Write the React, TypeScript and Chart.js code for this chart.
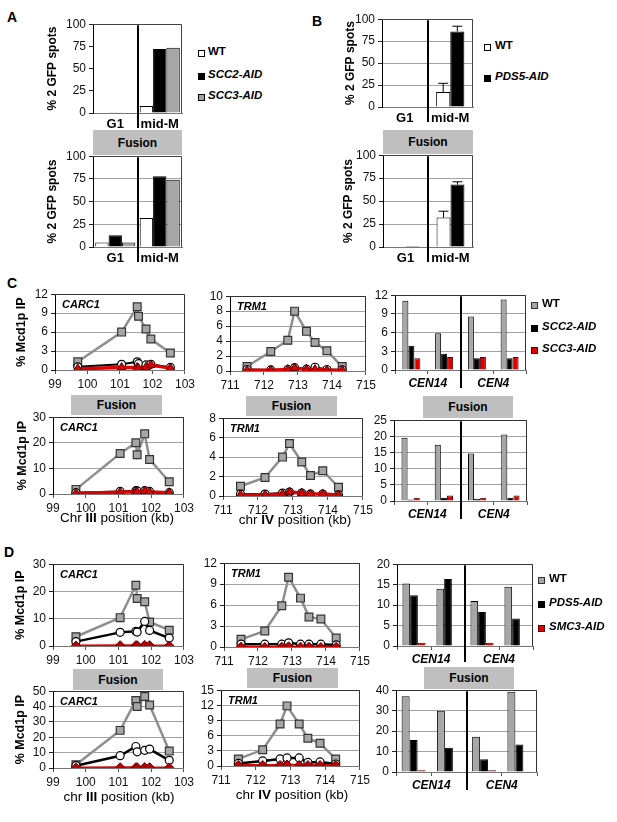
import React, { useEffect, useRef } from 'react';
import { Chart, registerables } from 'chart.js';

Chart.register(...registerables);

const FONT = "'Liberation Sans', Arial, Helvetica, sans-serif";
Chart.defaults.font.family = FONT;
Chart.defaults.color = '#000';

// ---------------- data ----------------
const phases = ['G1', 'mid-M'];
const legendA = ['WT', 'SCC2-AID', 'SCC3-AID'];
const legendB = ['WT', 'PDS5-AID'];
const legendC = ['WT', 'SCC2-AID', 'SCC3-AID'];
const legendD = ['WT', 'PDS5-AID', 'SMC3-AID'];

// y tick values per chart
const ticksPct = [0, 25, 50, 75, 100];
const ticks12by3 = [0, 3, 6, 9, 12];
const ticks30by10 = [0, 10, 20, 30];
const ticks10by2 = [0, 2, 4, 6, 8, 10];
const ticks8by2 = [0, 2, 4, 6, 8];
const ticks25by5 = [0, 5, 10, 15, 20, 25];
const ticks50by10 = [0, 10, 20, 30, 40, 50];
const ticks15by3 = [0, 3, 6, 9, 12, 15];
const ticks20by5 = [0, 5, 10, 15, 20];
const ticks40by10 = [0, 10, 20, 30, 40];

const aTopWT = [0, 8];
const aTopSCC2 = [0.8, 72];
const aTopSCC3 = [0, 73.5];
const aFusWT = [5, 32];
const aFusSCC2 = [13, 78];
const aFusSCC3 = [5, 74];

const bTopWT = [0, 17];
const bTopWTErr = [0, 10];
const bTopPDS5 = [0, 86];
const bTopPDS5Err = [0, 6];
const bFusWT = [0, 32];
const bFusWTErr = [0, 7];
const bFusPDS5 = [1, 68];
const bFusPDS5Err = [0, 3];

const carcPos = [99.7, 101.05, 101.53, 101.57, 101.8, 101.95, 102.55];
const cCarcWT = [1.3, 6.0, 10.0, 8.5, 6.5, 4.9, 2.7];
const cCarcSCC2 = [0.5, 0.9, 1.3, 1.0, 0.8, 0.9, 0.4];
const cCarcSCC3 = [0.2, 0.4, 0.4, 0.25, 0.45, 0.8, 0.3];
const cCarcFusWT = [1.8, 15.8, 20.0, 15.3, 23.5, 13.5, 4.8];
const cCarcFusSCC2 = [0.5, 1.0, 1.3, 1.2, 1.3, 1.0, 0.5];
const cCarcFusSCC3 = [0.3, 0.7, 0.9, 0.8, 1.2, 0.8, 0.5];

const trmPos = [711.5, 712.2, 712.7, 712.9, 713.25, 713.5, 713.85, 714.3];
const cTrmWT = [0.6, 2.6, 4.1, 8.0, 5.3, 3.8, 2.7, 0.6];
const cTrmSCC2 = [0.2, 0.15, 0.2, 0.45, 0.25, 0.5, 0.2, 0.15];
const cTrmSCC3 = [0.1, 0.1, 0.2, 0.4, 0.2, 0.2, 0.1, 0.1];
const cTrmFusWT = [1.0, 1.9, 4.0, 5.4, 3.5, 2.1, 2.6, 0.9];
const cTrmFusSCC2 = [0.2, 0.2, 0.3, 0.4, 0.3, 0.2, 0.2, 0.1];
const cTrmFusSCC3 = [0.1, 0.1, 0.2, 0.4, 0.3, 0.2, 0.2, 0.1];

const cenLabels = ['', 'CEN14', '', 'CEN4'];
const cCenWT = [11.1, 5.9, 8.6, 11.3];
const cCenSCC2 = [3.9, 2.6, 1.9, 1.9];
const cCenSCC3 = [1.9, 2.1, 2.1, 2.1];
const cCenFusWT = [19.6, 17.4, 14.7, 20.6];
const cCenFusSCC2 = [0.5, 1.0, 0.7, 1.0];
const cCenFusSCC3 = [1.0, 1.7, 1.0, 1.7];

const dCarcWT = [3.4, 10.4, 22.3, 17.4, 16.2, 8.8, 5.8];
const dCarcPDS5 = [1.6, 5.0, 5.4, 5.1, 9.0, 5.7, 2.9];
const dCarcSMC3 = [0.2, 0.3, 0.3, 0.3, 0.4, 0.3, 0.2];
const dCarcFusWT = [2.1, 24.5, 44.0, 40.0, 46.5, 41.0, 11.0];
const dCarcFusPDS5 = [1.5, 8.0, 14.0, 10.5, 11.5, 12.3, 5.0];
const dCarcFusSMC3 = [0.4, 0.5, 0.5, 0.5, 0.6, 0.5, 0.4];

const dTrmWT = [1.1, 2.3, 5.9, 10.0, 7.0, 4.3, 4.0, 1.3];
const dTrmPDS5 = [0.4, 0.4, 0.4, 0.6, 0.4, 0.4, 0.4, 0.3];
const dTrmSMC3 = [0.05, 0.0, 0.05, 0.1, 0.05, 0.05, 0.0, 0.05];
const dTrmFusWT = [1.4, 3.2, 8.3, 11.9, 8.3, 5.5, 4.5, 1.4];
const dTrmFusPDS5 = [0.5, 1.0, 1.4, 1.6, 1.6, 0.7, 0.8, 0.4];
const dTrmFusSMC3 = [0.2, 0.2, 0.2, 0.3, 0.2, 0.2, 0.2, 0.2];

const dCenWT = [15.3, 14.0, 11.0, 14.5];
const dCenPDS5 = [12.4, 16.4, 8.3, 6.7];
const dCenSMC3 = [0.8, 0.2, 0.8, 0.2];
const dCenFusWT = [37.0, 30.0, 17.2, 39.3];
const dCenFusPDS5 = [15.7, 11.8, 6.2, 13.4];
const dCenFusSMC3 = [0.8, 0.4, 0.8, 0.4];

// ---------------- styles ----------------
const GRID = '#a3a3a3';
const WT_BAR = '#a6a6a6';
const RED = '#e00000';

// ---------------- plugin ----------------
const deco: any = {
  id: 'deco',
  beforeDatasetsDraw(chart: any, _a: any, o: any) {
    const { ctx, chartArea: a } = chart;
    if (o && o.frame) {
      ctx.save();
      ctx.strokeStyle = o.frame;
      ctx.lineWidth = 1;
      ctx.beginPath();
      const t = Math.round(a.top) + 0.5;
      const r = Math.round(a.right) - 0.5;
      ctx.moveTo(a.left, t);
      ctx.lineTo(r, t);
      ctx.lineTo(r, a.bottom);
      ctx.stroke();
      ctx.restore();
    }
  },
  afterDraw(chart: any, _a: any, o: any) {
    const { ctx, chartArea: a } = chart;
    if (!o) return;
    if (o.errors) {
      const ys = chart.scales.y;
      ctx.save();
      ctx.strokeStyle = '#000';
      ctx.lineWidth = 1;
      const errs: number[][] = o.errors;
      for (let di = 0; di < errs.length; di++) {
        const meta = chart.getDatasetMeta(di);
        const vals = chart.data.datasets[di].data;
        meta.data.forEach((bar: any, i: number) => {
          const e = errs[di][i];
          if (!e) return;
          const yTop = ys.getPixelForValue(vals[i] + e);
          const yBase = ys.getPixelForValue(vals[i]);
          ctx.beginPath();
          ctx.moveTo(bar.x, yBase);
          ctx.lineTo(bar.x, yTop);
          ctx.moveTo(bar.x - 5, yTop);
          ctx.lineTo(bar.x + 5, yTop);
          ctx.stroke();
        });
      }
      ctx.restore();
    }
    if (o.divider !== undefined && o.divider !== null) {
      const xs = chart.scales.x;
      const px = Math.round((xs.getPixelForValue(o.divider) + xs.getPixelForValue(o.divider + 1)) / 2);
      ctx.save();
      ctx.strokeStyle = '#000';
      ctx.lineWidth = 2;
      ctx.beginPath();
      ctx.moveTo(px, a.top + 1);
      ctx.lineTo(px, a.bottom + (o.dividerExt || 0));
      ctx.stroke();
      ctx.restore();
    }
    if (o.tag) {
      ctx.save();
      ctx.font = `italic bold 11px ${FONT}`;
      ctx.fillStyle = '#000';
      ctx.textBaseline = 'top';
      ctx.fillText(o.tag, a.left + 7, a.top + 5);
      ctx.restore();
    }
  },
};

// ---------------- config helpers ----------------
function yAxis(tickVals: number[], title?: string, grid = true, titleSize = 12) {
  return {
    min: tickVals[0],
    max: tickVals[tickVals.length - 1],
    afterBuildTicks: (s: any) => {
      s.ticks = tickVals.map((v) => ({ value: v }));
    },
    ticks: { font: { size: 12 }, color: '#111', padding: 3, autoSkip: false },
    grid: { display: true, drawOnChartArea: grid, color: GRID, lineWidth: 1, tickLength: 4, tickColor: '#222' },
    border: { display: true, color: '#000', width: 1 },
    title: title
      ? { display: true, text: title, font: { size: titleSize, weight: 'bold' }, color: '#000', padding: 0 }
      : { display: false },
  };
}

function barDs(label: string, data: number[], bg: string, border: string, cp: number) {
  return { label, data, backgroundColor: bg, borderColor: border, borderWidth: 1, categoryPercentage: cp, barPercentage: 1 };
}

function phaseConfig(datasets: any[], title: string, grid: boolean, extra: any = {}) {
  return {
    type: 'bar',
    data: { labels: phases, datasets },
    options: {
      scales: {
        x: {
          ticks: { font: { size: 13, weight: 'bold' }, color: '#000', padding: 4, autoSkip: false, maxRotation: 0 },
          grid: { drawOnChartArea: false, drawTicks: false },
          border: { color: '#777' },
        },
        y: yAxis(ticksPct, title, grid),
      },
      plugins: { deco: { frame: '#444', divider: 0, dividerExt: 15, ...extra } },
    },
  };
}

function cenConfig(datasets: any[], tickVals: number[], plotW: number, ext: number) {
  return {
    type: 'bar',
    data: { labels: cenLabels, datasets },
    options: {
      scales: {
        x: {
          ticks: {
            font: { size: 12, weight: 'bold', style: 'italic' },
            color: '#000',
            padding: 2,
            autoSkip: false,
            maxRotation: 0,
            labelOffset: -plotW / 8,
          },
          grid: { drawOnChartArea: false, drawTicks: true, tickLength: 4, tickColor: '#555' },
          border: { color: '#777' },
        },
        y: yAxis(tickVals),
      },
      plugins: { deco: { frame: '#333', divider: 1, dividerExt: ext } },
    },
  };
}

function lineConfig(
  xs: number[],
  wt: number[],
  m1: number[],
  m2: number[],
  xr: [number, number],
  tickVals: number[],
  tag: string,
  variant: 'C' | 'D',
  title?: string,
) {
  const pts = (ys: number[]) => xs.map((x, i) => ({ x, y: ys[i] }));
  const red =
    variant === 'C'
      ? { label: 'm2', data: pts(m2), borderColor: RED, borderWidth: 3.5, pointStyle: 'triangle', pointRadius: 5, pointBackgroundColor: RED, pointBorderColor: '#500', pointBorderWidth: 1, order: 1 }
      : { label: 'm2', data: pts(m2), borderColor: RED, borderWidth: 2, pointStyle: 'rectRot', pointRadius: 4.5, pointBackgroundColor: '#c00000', pointBorderColor: '#600', pointBorderWidth: 1, order: 1 };
  return {
    type: 'line',
    data: {
      datasets: [
        { label: 'WT', data: pts(wt), borderColor: '#8e8e8e', borderWidth: 2.5, pointStyle: 'rect', pointRadius: 5.5, pointBackgroundColor: WT_BAR, pointBorderColor: '#333', pointBorderWidth: 1.2, order: 3, tension: 0 },
        { label: 'm1', data: pts(m1), borderColor: '#000', borderWidth: variant === 'C' ? 2 : 2.5, pointStyle: 'circle', pointRadius: 4, pointBackgroundColor: '#fff', pointBorderColor: '#000', pointBorderWidth: 1.2, order: 2, tension: 0 },
        red,
      ],
    },
    options: {
      scales: {
        x: {
          type: 'linear',
          min: xr[0],
          max: xr[1],
          ticks: { stepSize: 1, font: { size: 12 }, color: '#111', padding: 3, autoSkip: false },
          grid: { drawOnChartArea: false, drawTicks: true, tickLength: 4, tickColor: '#555' },
          border: { color: '#777' },
        },
        y: yAxis(tickVals, title, true, 12.5),
      },
      plugins: { deco: { frame: '#333', tag } },
    },
  };
}

// ---------------- components ----------------
type Rect = { x: number; y: number; w: number; h: number };

function Plot({ plot, yW, xH, padT = 9, padR = 8, config }: { plot: Rect; yW: number; xH: number; padT?: number; padR?: number; config: () => any }) {
  const ref = useRef<HTMLCanvasElement | null>(null);
  const W = yW + plot.w + padR;
  const H = padT + plot.h + xH;
  useEffect(() => {
    const cfg = config();
    const o = cfg.options;
    o.responsive = false;
    o.maintainAspectRatio = false;
    o.animation = false;
    o.layout = { padding: { top: padT, right: padR, left: 0, bottom: 0 } };
    o.scales.x.afterFit = (s: any) => {
      s.height = xH;
    };
    o.scales.y.afterFit = (s: any) => {
      s.width = yW;
    };
    o.plugins = { ...(o.plugins || {}), legend: { display: false }, tooltip: { enabled: false } };
    cfg.plugins = [deco];
    const chart = new Chart(ref.current as HTMLCanvasElement, cfg);
    return () => chart.destroy();
  }, []);
  return (
    <canvas
      ref={ref}
      width={W}
      height={H}
      style={{ position: 'absolute', left: plot.x - yW, top: plot.y - padT, width: W, height: H }}
    />
  );
}

function T({ x, y, s = 12, b = false, i = false, center = false, children }: any) {
  const style: any = {
    position: 'absolute',
    top: y - s / 2,
    fontSize: s,
    lineHeight: `${s}px`,
    fontWeight: b ? 'bold' : 'normal',
    fontStyle: i ? 'italic' : 'normal',
    whiteSpace: 'nowrap',
  };
  if (center) {
    style.left = x - 150;
    style.width = 300;
    style.textAlign = 'center';
  } else style.left = x;
  return <div style={style}>{children}</div>;
}

function Sq({ x, y, fill, stroke = '#000' }: any) {
  return (
    <div
      style={{ position: 'absolute', left: x, top: y - 3.5, width: 7, height: 7, boxSizing: 'border-box', background: fill, border: `1px solid ${stroke}` }}
    />
  );
}

function Fusion({ x, y, w, h }: any) {
  return (
    <div
      style={{ position: 'absolute', left: x, top: y, width: w, height: h, background: '#bfbfbf', display: 'flex', alignItems: 'center', justifyContent: 'center', fontWeight: 'bold', fontSize: 12 }}
    >
      Fusion
    </div>
  );
}

function Legend({ x, tx, ys, labels, fills, strokes }: any) {
  return (
    <>
      {labels.map((l: string, k: number) => (
        <React.Fragment key={l}>
          <Sq x={x} y={ys[k] + 1} fill={fills[k]} stroke={strokes[k]} />
          <T x={tx} y={ys[k]} s={11.5} b i={k > 0}>
            {l}
          </T>
        </React.Fragment>
      ))}
    </>
  );
}

export default function App() {
  const A1 = { x: 93, y: 23, w: 89, h: 90 };
  const A2 = { x: 93, y: 155, w: 89, h: 92 };
  const B1 = { x: 382, y: 18, w: 91, h: 89 };
  const B2 = { x: 383, y: 154, w: 90, h: 93 };
  const CC1 = { x: 55, y: 293, w: 131, h: 77 };
  const CC2 = { x: 53, y: 416, w: 132, h: 78 };
  const CT1 = { x: 230, y: 295, w: 137, h: 76 };
  const CT2 = { x: 223, y: 417, w: 141, h: 79 };
  const CB1 = { x: 395, y: 294, w: 131, h: 76 };
  const CB2 = { x: 394, y: 419, w: 133, h: 82 };
  const DC1 = { x: 53, y: 563, w: 132, h: 83 };
  const DC2 = { x: 53, y: 690, w: 132, h: 78 };
  const DT1 = { x: 224, y: 562, w: 137, h: 85 };
  const DT2 = { x: 221, y: 689, w: 140, h: 77 };
  const DB1 = { x: 397, y: 563, w: 136, h: 83 };
  const DB2 = { x: 396, y: 689, w: 141, h: 83 };

  return (
    <div style={{ position: 'absolute', left: 0, top: 0, width: 617, height: 822, background: '#fff', fontFamily: FONT, color: '#000', overflow: 'hidden' }}>
      {/* panel letters */}
      <T x={7} y={17} s={14} b>A</T>
      <T x={312} y={21} s={14} b>B</T>
      <T x={7} y={283} s={14} b>C</T>
      <T x={4} y={552} s={14} b>D</T>

      {/* Fusion boxes */}
      <Fusion x={93} y={130} w={89} h={25} />
      <Fusion x={383} y={130} w={90} h={24} />
      <Fusion x={71} y={395} w={91} h={20} />
      <Fusion x={246} y={396} w={91} h={20} />
      <Fusion x={423} y={396} w={90} h={22} />
      <Fusion x={73} y={669} w={90} h={21} />
      <Fusion x={247} y={668} w={91} h={20} />
      <Fusion x={424} y={667} w={90} h={22} />

      {/* Panel A */}
      <Plot plot={A1} yW={48} xH={24} config={() => phaseConfig([
        barDs(legendA[0], aTopWT, '#fff', '#000', 0.9),
        barDs(legendA[1], aTopSCC2, '#000', '#000', 0.9),
        barDs(legendA[2], aTopSCC3, WT_BAR, '#000', 0.9),
      ], '% 2 GFP spots', false)} />
      <Plot plot={A2} yW={48} xH={24} config={() => phaseConfig([
        barDs(legendA[0], aFusWT, '#fff', '#000', 0.9),
        barDs(legendA[1], aFusSCC2, '#000', '#000', 0.9),
        barDs(legendA[2], aFusSCC3, WT_BAR, '#000', 0.9),
      ], '% 2 GFP spots', true)} />
      <Legend x={198} tx={208} ys={[52, 75, 96]} labels={legendA} fills={['#fff', '#000', WT_BAR]} strokes={['#000', '#000', '#000']} />

      {/* Panel B */}
      <Plot plot={B1} yW={39} xH={24} config={() => phaseConfig([
        barDs(legendB[0], bTopWT, '#fff', '#000', 0.62),
        barDs(legendB[1], bTopPDS5, '#000', '#000', 0.62),
      ], '% 2 GFP spots', true, { errors: [bTopWTErr, bTopPDS5Err] })} />
      <Plot plot={B2} yW={42} xH={24} config={() => phaseConfig([
        barDs(legendB[0], bFusWT, '#fff', '#000', 0.62),
        barDs(legendB[1], bFusPDS5, '#000', '#000', 0.62),
      ], '% 2 GFP spots', true, { errors: [bFusWTErr, bFusPDS5Err] })} />
      <Legend x={484} tx={495} ys={[46, 77]} labels={legendB} fills={['#fff', '#000']} strokes={['#000', '#000']} />

      {/* Panel C */}
      <Plot plot={CC1} yW={41} xH={22} padR={12} config={() => lineConfig(carcPos, cCarcWT, cCarcSCC2, cCarcSCC3, [99, 103], ticks12by3, 'CARC1', 'C', '% Mcd1p IP')} />
      <Plot plot={CC2} yW={38} xH={22} padR={12} config={() => lineConfig(carcPos, cCarcFusWT, cCarcFusSCC2, cCarcFusSCC3, [99, 103], ticks30by10, 'CARC1', 'C', '% Mcd1p IP')} />
      <Plot plot={CT1} yW={30} xH={22} padR={12} config={() => lineConfig(trmPos, cTrmWT, cTrmSCC2, cTrmSCC3, [711, 715], ticks10by2, 'TRM1', 'C')} />
      <Plot plot={CT2} yW={30} xH={22} padR={12} config={() => lineConfig(trmPos, cTrmFusWT, cTrmFusSCC2, cTrmFusSCC3, [711, 715], ticks8by2, 'TRM1', 'C')} />
      <Plot plot={CB1} yW={30} xH={24} config={() => cenConfig([
        barDs(legendC[0], cCenWT, WT_BAR, '#000', 0.55),
        barDs(legendC[1], cCenSCC2, '#000', '#000', 0.55),
        barDs(legendC[2], cCenSCC3, RED, '#500', 0.55),
      ], ticks12by3, CB1.w, 18)} />
      <Plot plot={CB2} yW={30} xH={24} config={() => cenConfig([
        barDs(legendC[0], cCenFusWT, WT_BAR, '#000', 0.55),
        barDs(legendC[1], cCenFusSCC2, '#000', '#000', 0.55),
        barDs(legendC[2], cCenFusSCC3, RED, '#500', 0.55),
      ], ticks25by5, CB2.w, 18)} />
      <Legend x={531} tx={542} ys={[304, 327, 349]} labels={legendC} fills={[WT_BAR, '#000', RED]} strokes={['#333', '#000', '#500']} />
      <T x={117} y={518} s={13.5} center>Chr <b>III</b> position (kb)</T>
      <T x={295} y={520} s={13.5} center>chr <b>IV</b> position (kb)</T>

      {/* Panel D */}
      <Plot plot={DC1} yW={40} xH={22} padR={12} config={() => lineConfig(carcPos, dCarcWT, dCarcPDS5, dCarcSMC3, [99, 103], ticks30by10, 'CARC1', 'D', '% Mcd1p IP')} />
      <Plot plot={DC2} yW={40} xH={22} padR={12} config={() => lineConfig(carcPos, dCarcFusWT, dCarcFusPDS5, dCarcFusSMC3, [99, 103], ticks50by10, 'CARC1', 'D', '% Mcd1p IP')} />
      <Plot plot={DT1} yW={30} xH={22} padR={12} config={() => lineConfig(trmPos, dTrmWT, dTrmPDS5, dTrmSMC3, [711, 715], ticks12by3, 'TRM1', 'D')} />
      <Plot plot={DT2} yW={30} xH={22} padR={12} config={() => lineConfig(trmPos, dTrmFusWT, dTrmFusPDS5, dTrmFusSMC3, [711, 715], ticks15by3, 'TRM1', 'D')} />
      <Plot plot={DB1} yW={30} xH={24} config={() => cenConfig([
        barDs(legendD[0], dCenWT, WT_BAR, '#000', 0.68),
        barDs(legendD[1], dCenPDS5, '#000', '#000', 0.68),
        barDs(legendD[2], dCenSMC3, RED, '#500', 0.68),
      ], ticks20by5, DB1.w, 16)} />
      <Plot plot={DB2} yW={30} xH={24} config={() => cenConfig([
        barDs(legendD[0], dCenFusWT, WT_BAR, '#000', 0.68),
        barDs(legendD[1], dCenFusPDS5, '#000', '#000', 0.68),
        barDs(legendD[2], dCenFusSMC3, RED, '#500', 0.68),
      ], ticks40by10, DB2.w, 18)} />
      <Legend x={538} tx={549} ys={[579, 603, 627]} labels={legendD} fills={[WT_BAR, '#000', RED]} strokes={['#333', '#000', '#500']} />
      <T x={119} y={797} s={13.5} center>chr <b>III</b> position (kb)</T>
      <T x={292} y={795} s={13.5} center>chr <b>IV</b> position (kb)</T>
    </div>
  );
}
